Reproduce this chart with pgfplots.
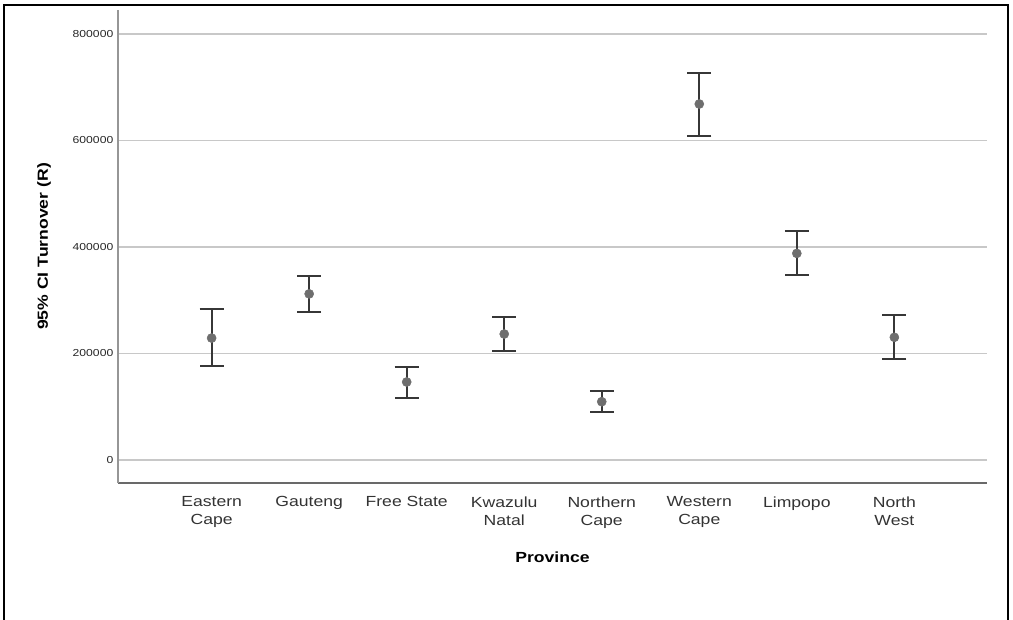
\documentclass[border=0pt]{standalone}
\usepackage{pgfplots}
\usepackage{pgfplotstable}
\pgfplotsset{compat=1.18}
\usepackage{fontspec}
\setmainfont{Liberation Sans}[FakeStretch=1.2]
\definecolor{barc}{RGB}{55,55,55}
\definecolor{markc}{RGB}{110,110,110}
\definecolor{gridc}{RGB}{200,200,200}
\definecolor{yaxc}{RGB}{150,150,150}
\definecolor{xaxc}{RGB}{105,105,105}
\pgfplotstableread{
x y ep em
0 229000 54600 52500
1 312000 33500 33500
2 146500 28500 30700
3 236600 31400 31900
4 109500 20100 19500
5 668500 58500 60000
6 388000 42000 41200
7 230400 41300 41400
}\datatab
\begin{document}
\begin{tikzpicture}
\useasboundingbox (0,0) rectangle (759.75pt,-464.25pt);
\draw[line width=1.5pt] (3pt,-480pt) -- (3pt,-3.75pt) -- (756pt,-3.75pt) -- (756pt,-480pt);
\begin{axis}[
  at={(88.5pt,-362.25pt)}, anchor=south west,
  scale only axis, width=651.75pt, height=354.75pt,
  xmin=-0.96, xmax=7.95, ymin=-43200, ymax=845000,
  axis x line=bottom, axis y line=left,
  axis line style={-, line width=1pt},
  x axis line style={draw=xaxc},
  y axis line style={draw=yaxc},
  xtick={0,...,7},
  xticklabels={{Eastern\\Cape},Gauteng,{Free State},{Kwazulu\\Natal},{Northern\\Cape},{Western\\Cape},Limpopo,{North\\West}},
  xticklabel style={align=center, font=\fontsize{11}{13.5}\selectfont, text=black!80, yshift=-6.5pt},
  ytick={0,200000,400000,600000,800000},
  ymajorgrids, grid style={gridc, line width=0.9pt},
  major tick length=0pt,
  scaled y ticks=false,
  yticklabel style={/pgf/number format/fixed, /pgf/number format/1000 sep={}, font=\fontsize{7.6}{9}\selectfont, text=black!85},
  /pgf/number format/assume math mode=true,
  xlabel={Province}, ylabel={95\% CI Turnover (R)},
  label style={font=\bfseries\fontsize{11}{13}\selectfont},
  xlabel style={at={(axis description cs:0.5,-0.156)}, anchor=center},
  ylabel style={at={(axis description cs:-0.085,0.5)}, anchor=center},
  clip=false,
]
\addplot[draw=none, mark=none,
  error bars/.cd, y dir=both, y explicit,
  error bar style={barc, line width=1.4pt},
  error mark options={barc, line width=1.4pt, mark size=9pt, rotate=90}]
  table[x=x, y=y, y error plus=ep, y error minus=em] {\datatab};
\addplot[only marks, mark=*, mark size=3.4pt, mark options={fill=markc, draw=markc}]
  table[x=x, y=y] {\datatab};
\end{axis}
\end{tikzpicture}
\end{document}
